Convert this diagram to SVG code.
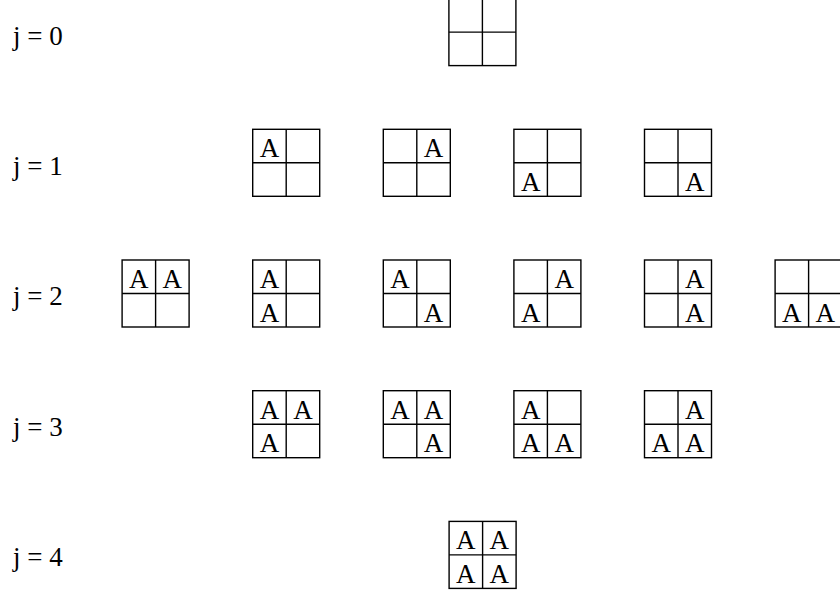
<svg xmlns="http://www.w3.org/2000/svg" xmlns:xlink="http://www.w3.org/1999/xlink" width="840" height="594" viewBox="0 0 840 594">
<style>
.frame{fill:none;stroke:#000;stroke-width:1.4}
.lbl{font-family:"Liberation Serif","Times New Roman",serif;font-size:27px;fill:#000}
.a{font-family:"Liberation Serif","Times New Roman",serif;font-size:27px;fill:#000;text-anchor:middle}
</style>
<defs>
<g id="grid">
<rect class="frame" x="0" y="0" width="67" height="67"/>
<line class="frame" x1="33.5" y1="0" x2="33.5" y2="67"/>
<line class="frame" x1="0" y1="33.5" x2="67" y2="33.5"/>
</g>
</defs>
<rect width="840" height="594" fill="#fff"/>
<g id="labels">
<text class="lbl" x="13" y="44.5">j = 0</text>
<text class="lbl" x="13" y="174.5">j = 1</text>
<text class="lbl" x="13" y="305">j = 2</text>
<text class="lbl" x="13" y="435.5">j = 3</text>
<text class="lbl" x="13" y="566">j = 4</text>
</g>
<g id="connectors"/>
<g id="j0">
<use xlink:href="#grid" x="448.9" y="-1.4"/>
</g>
<g id="j1-1"><use xlink:href="#grid" x="252.7" y="129.3"/><text class="a" x="269.45" y="157.3">A</text></g>
<g id="j1-2"><use xlink:href="#grid" x="383.3" y="129.3"/><text class="a" x="433.55" y="157.3">A</text></g>
<g id="j1-3"><use xlink:href="#grid" x="513.9" y="129.3"/><text class="a" x="530.65" y="190.8">A</text></g>
<g id="j1-4"><use xlink:href="#grid" x="644.5" y="129.3"/><text class="a" x="694.75" y="190.8">A</text></g>
<g id="j2-0"><use xlink:href="#grid" x="122.1" y="260"/><text class="a" x="138.85" y="288">A</text><text class="a" x="172.35" y="288">A</text></g>
<g id="j2-1"><use xlink:href="#grid" x="252.7" y="260"/><text class="a" x="269.45" y="288">A</text><text class="a" x="269.45" y="321.5">A</text></g>
<g id="j2-2"><use xlink:href="#grid" x="383.3" y="260"/><text class="a" x="400.05" y="288">A</text><text class="a" x="433.55" y="321.5">A</text></g>
<g id="j2-3"><use xlink:href="#grid" x="513.9" y="260"/><text class="a" x="564.15" y="288">A</text><text class="a" x="530.65" y="321.5">A</text></g>
<g id="j2-4"><use xlink:href="#grid" x="644.5" y="260"/><text class="a" x="694.75" y="288">A</text><text class="a" x="694.75" y="321.5">A</text></g>
<g id="j2-5"><use xlink:href="#grid" x="775.1" y="260"/><text class="a" x="791.85" y="321.5">A</text><text class="a" x="825.35" y="321.5">A</text></g>
<g id="j3-1"><use xlink:href="#grid" x="252.7" y="390.7"/><text class="a" x="269.45" y="418.7">A</text><text class="a" x="302.95" y="418.7">A</text><text class="a" x="269.45" y="452.2">A</text></g>
<g id="j3-2"><use xlink:href="#grid" x="383.3" y="390.7"/><text class="a" x="400.05" y="418.7">A</text><text class="a" x="433.55" y="418.7">A</text><text class="a" x="433.55" y="452.2">A</text></g>
<g id="j3-3"><use xlink:href="#grid" x="513.9" y="390.7"/><text class="a" x="530.65" y="418.7">A</text><text class="a" x="530.65" y="452.2">A</text><text class="a" x="564.15" y="452.2">A</text></g>
<g id="j3-4"><use xlink:href="#grid" x="644.5" y="390.7"/><text class="a" x="694.75" y="418.7">A</text><text class="a" x="661.25" y="452.2">A</text><text class="a" x="694.75" y="452.2">A</text></g>
<g id="j4"><use xlink:href="#grid" x="449.1" y="521.4"/><text class="a" x="465.85" y="549.4">A</text><text class="a" x="499.35" y="549.4">A</text><text class="a" x="465.85" y="582.9">A</text><text class="a" x="499.35" y="582.9">A</text></g>
</svg>
